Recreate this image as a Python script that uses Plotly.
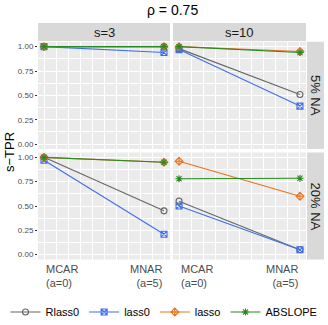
import plotly.graph_objects as go

# x positions: MCAR (a=0) and MNAR (a=5)
a_vals = [0, 5]

# panel order: (s=3, 5% NA), (s=10, 5% NA), (s=3, 20% NA), (s=10, 20% NA)
s_labels = ["s=3", "s=10"]
na_labels = ["5% NA", "20% NA"]

methods = ["Rlass0", "lass0", "lasso", "ABSLOPE"]
colors = ["#666666", "#3f6ee6", "#e8731f", "#2a8a22"]
symbols = ["circle-open", "square-x-open", "diamond-cross-open", "asterisk-open"]

rlass0_mcar = [1.00, 0.98, 1.00, 0.55]
rlass0_mnar = [1.00, 0.51, 0.45, 0.05]
lass0_mcar = [1.00, 0.97, 0.97, 0.50]
lass0_mnar = [0.94, 0.39, 0.21, 0.05]
lasso_mcar = [1.00, 1.00, 1.00, 0.96]
lasso_mnar = [1.00, 0.95, 0.95, 0.60]
abslope_mcar = [1.00, 1.00, 1.00, 0.78]
abslope_mnar = [1.00, 0.94, 0.95, 0.785]

series = [
    (rlass0_mcar, rlass0_mnar),
    (lass0_mcar, lass0_mnar),
    (lasso_mcar, lasso_mnar),
    (abslope_mcar, abslope_mnar),
]

W, H = 328, 325
def px(x):
    return x / W
def py(y):
    return 1 - y / H

col_dom = [(38, 170), (173, 306)]
row_dom = [(41.8, 149), (152.5, 259.5)]

fig = go.Figure()

for p in range(4):
    r, c = divmod(p, 2)
    xa = "x" if p == 0 else f"x{p+1}"
    ya = "y" if p == 0 else f"y{p+1}"
    for m, (mcar, mnar) in enumerate(series):
        fig.add_trace(go.Scatter(
            x=a_vals, y=[mcar[p], mnar[p]], xaxis=xa, yaxis=ya,
            mode="lines+markers", name=methods[m], legendgroup=methods[m],
            showlegend=(p == 0),
            line=dict(color=colors[m], width=1.1),
            marker=dict(symbol=symbols[m], size=6, color=colors[m],
                        line=dict(color=colors[m], width=1.1)),
        ))

    xd = col_dom[c]
    yd = row_dom[r]
    xkey = "xaxis" if p == 0 else f"xaxis{p+1}"
    ykey = "yaxis" if p == 0 else f"yaxis{p+1}"
    fig.layout[xkey] = dict(
        domain=[px(xd[0]), px(xd[1])], anchor=ya, range=[-0.25, 5.25],
        dtick=1, showticklabels=False, ticks="", showgrid=True,
        gridcolor="white", gridwidth=0.9, zeroline=False,
        minor=dict(dtick=0.5, showgrid=True, gridcolor="white", gridwidth=0.6),
        showline=False, fixedrange=True, automargin=False,
    )
    fig.layout[ykey] = dict(
        domain=[py(yd[1]), py(yd[0])], anchor=xa, range=[-0.05, 1.05],
        tickvals=[0, 0.25, 0.5, 0.75, 1.0],
        ticktext=["0.00", "0.25", "0.50", "0.75", "1.00"],
        showticklabels=(c == 0), ticks="outside" if c == 0 else "",
        ticklen=2, tickcolor="#333333",
        tickfont=dict(size=8, color="#4d4d4d"),
        showgrid=True, gridcolor="white", gridwidth=1.0, zeroline=False,
        minor=dict(dtick=0.125, showgrid=True, gridcolor="white", gridwidth=0.5),
        showline=False, fixedrange=True, automargin=False,
    )

shapes = []
annotations = []
# panel backgrounds
for r in range(2):
    for c in range(2):
        shapes.append(dict(type="rect", xref="paper", yref="paper", layer="below",
                           x0=px(col_dom[c][0]), x1=px(col_dom[c][1]),
                           y0=py(row_dom[r][1]), y1=py(row_dom[r][0]),
                           fillcolor="#ebebeb", line=dict(width=0)))
# top strips
for c in range(2):
    shapes.append(dict(type="rect", xref="paper", yref="paper", layer="below",
                       x0=px(col_dom[c][0]), x1=px(col_dom[c][1]),
                       y0=py(41), y1=py(23), fillcolor="#d9d9d9", line=dict(width=0)))
    annotations.append(dict(xref="paper", yref="paper",
                            x=px((col_dom[c][0] + col_dom[c][1]) / 2), y=py(32),
                            xanchor="center", yanchor="middle",
                            text=s_labels[c], showarrow=False,
                            font=dict(size=13, color="#1a1a1a")))
# right strips
for r in range(2):
    shapes.append(dict(type="rect", xref="paper", yref="paper", layer="below",
                       x0=px(307), x1=px(324),
                       y0=py(row_dom[r][1]), y1=py(row_dom[r][0]),
                       fillcolor="#d9d9d9", line=dict(width=0)))
    annotations.append(dict(xref="paper", yref="paper",
                            x=px(315.5), y=py((row_dom[r][0] + row_dom[r][1]) / 2),
                            xanchor="center", yanchor="middle",
                            text=na_labels[r], showarrow=False, textangle=90,
                            font=dict(size=13, color="#1a1a1a")))
# x tick labels (left/right aligned like the original)
for c in range(2):
    xa = "x3" if c == 0 else "x4"
    annotations.append(dict(xref=xa, yref="paper", x=a_vals[0], y=py(261),
                            text="MCAR<br>(a=0)", showarrow=False, xanchor="left",
                            yanchor="top", align="left",
                            font=dict(size=11, color="#4d4d4d")))
    annotations.append(dict(xref=xa, yref="paper", x=a_vals[1], y=py(261),
                            text="MNAR<br>(a=5)", showarrow=False, xanchor="right",
                            yanchor="top", align="right",
                            font=dict(size=11, color="#4d4d4d")))
# title and y-axis title
annotations.append(dict(xref="paper", yref="paper", x=px(172), y=py(10),
                        xanchor="center", yanchor="middle",
                        text="ρ = 0.75", showarrow=False,
                        font=dict(size=14, color="black")))
annotations.append(dict(xref="paper", yref="paper", x=px(10), y=py(152),
                        xanchor="center", yanchor="middle",
                        text="s−TPR", showarrow=False, textangle=-90,
                        font=dict(size=13, color="black")))

fig.update_layout(
    width=W, height=H, autosize=False,
    margin=dict(l=0, r=0, t=0, b=0, pad=0, autoexpand=False),
    paper_bgcolor="white", plot_bgcolor="rgba(0,0,0,0)",
    font=dict(family="Liberation Sans, Arial, sans-serif"),
    shapes=shapes, annotations=annotations,
    legend=dict(orientation="h", x=0.5, xanchor="center", y=py(312), yanchor="middle",
                font=dict(size=11, color="black"), itemwidth=30,
                bgcolor="rgba(0,0,0,0)", tracegroupgap=0),
)

# drop the browser's default page margin so the figure sits at the top-left corner
fig.write_html("out.html", config={"displayModeBar": False},
               post_script="document.body.style.margin = '0px';")
